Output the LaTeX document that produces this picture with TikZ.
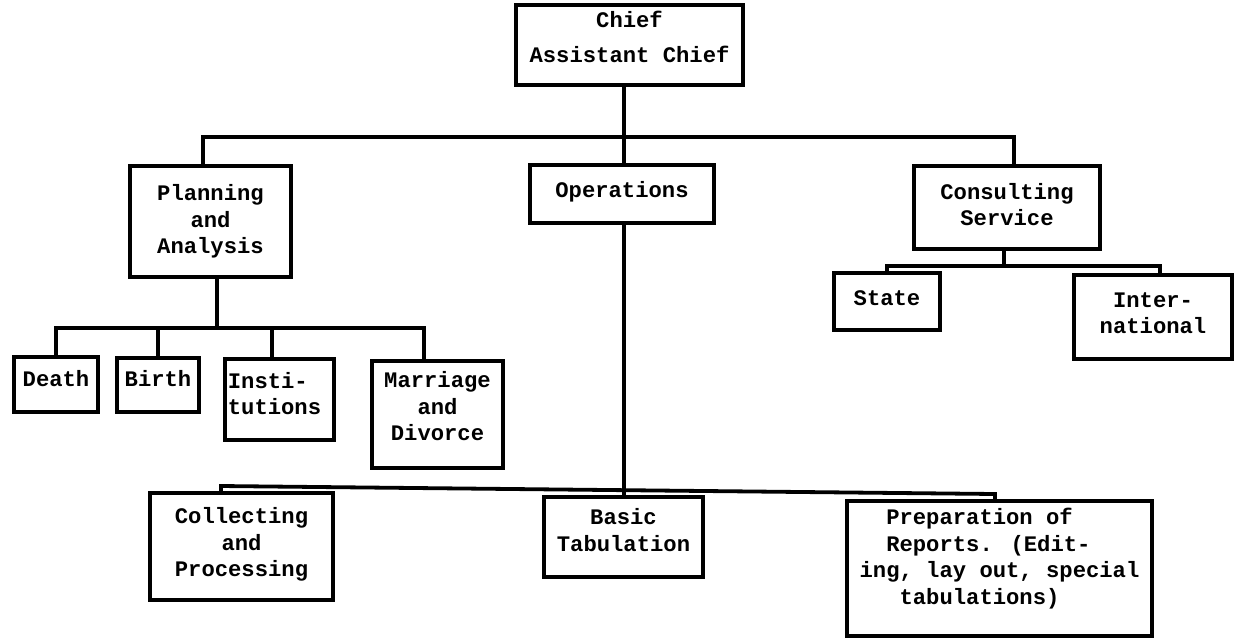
\documentclass[tikz,border=0pt]{standalone}
\usepackage{fontspec}
\setmainfont{Liberation Mono}
\begin{document}
\begin{tikzpicture}[x=1pt,y=-1pt,
  box/.style={draw, line width=4.2pt, inner sep=0pt},
  lbl/.style={inner sep=0pt, align=center,
    font=\bfseries\fontsize{22.2}{26.5}\selectfont},
  conn/.style={line width=3.8pt}]
\useasboundingbox[fill=white] (0,0) rectangle (1236,641);
% top level
\node[box, minimum width=227, minimum height=80] (chief) at (629.5,45) {};
\node[lbl, font=\bfseries\fontsize{22.2}{35}\selectfont] (chief-t) at ([yshift=8pt]chief.center) {Chief\\Assistant Chief};
\node[box, minimum width=161, minimum height=111] (plan) at (210.5,221.5) {};
\node[lbl] (plan-t) at (plan.center) {Planning\\and\\Analysis};
\node[box, minimum width=184, minimum height=58] (ops) at (622,194) {};
\node[lbl] (ops-t) at ([yshift=2pt]ops.center) {Operations};
\node[box, minimum width=186, minimum height=83] (cons) at (1007,207.5) {};
\node[lbl] (cons-t) at ([yshift=3pt]cons.center) {Consulting\\Service};
% consulting children
\node[box, minimum width=106, minimum height=57] (state) at (887,301.5) {};
\node[lbl] (state-t) at ([yshift=3pt]state.center) {State};
\node[box, minimum width=158, minimum height=84] (intl) at (1153,317) {};
\node[lbl] (intl-t) at ([yshift=4pt]intl.center) {Inter-\\national};
% planning children
\node[box, minimum width=84, minimum height=55] (death) at (56,384.5) {};
\node[lbl] (death-t) at ([yshift=6pt]death.center) {Death};
\node[box, minimum width=82, minimum height=54] (birth) at (158,385) {};
\node[lbl] (birth-t) at ([yshift=6pt]birth.center) {Birth};
\node[box, minimum width=109, minimum height=81] (inst) at (279.5,399.5) {};
\node[lbl, align=left] (inst-t) at ([xshift=-5pt,yshift=6pt]inst.center) {Insti-\\tutions};
\node[box, minimum width=131, minimum height=107] (marr) at (437.5,414.5) {};
\node[lbl] (marr-t) at ([yshift=8pt]marr.center) {Marriage\\and\\Divorce};
% operations children
\node[box, minimum width=183, minimum height=107] (coll) at (241.5,546.5) {};
\node[lbl] (coll-t) at ([yshift=2pt]coll.center) {Collecting\\and\\Processing};
\node[box, minimum width=159, minimum height=80] (basic) at (623.5,537) {};
\node[lbl] (basic-t) at ([yshift=7pt]basic.center) {Basic\\Tabulation};
\node[box, minimum width=305, minimum height=135] (prep) at (999.5,568.5) {};
\node[lbl, align=left] (prep-t) at ([yshift=10pt]prep.center)
  {\hspace*{1.2em}Preparation of\\\hspace*{1.2em}Reports. (Edit-\\ing, lay out, special\\\hspace*{1.8em}tabulations)};
% bus coordinates
\coordinate (bus1) at (624,137);
\coordinate (bus2) at (217,328);
\coordinate (bus3) at (1004,266);
\coordinate (bus4) at (624,490);
\coordinate (bus4l) at (221,486);
\coordinate (bus4r) at (995,494);
% connectors
\draw[conn] (chief.south -| bus1) -- (ops.north -| bus1);
\draw[conn] ([xshift=-7.5pt]plan.north) |- (bus1) -| ([xshift=7pt]cons.north);
\draw[conn] ([xshift=6.5pt]plan.south) -- (bus2);
\draw[conn] (death.north) |- (bus2) -| ([xshift=-13.5pt]marr.north);
\draw[conn] (birth.north) -- (birth.north |- bus2);
\draw[conn] ([xshift=-7.5pt]inst.north) -- ([xshift=-7.5pt]inst.north |- bus2);
\draw[conn] ([xshift=-3pt]cons.south) -- (bus3);
\draw[conn] (state.north) |- (bus3) -| ([xshift=7pt]intl.north);
\draw[conn] (ops.south -| bus4) -- (bus4);
\draw[conn] (coll.north -| bus4l) -- (bus4l) -- (bus4r) -- (prep.north -| bus4r);
\draw[conn] (basic.north -| bus4) -- (bus4);
\end{tikzpicture}
\end{document}
